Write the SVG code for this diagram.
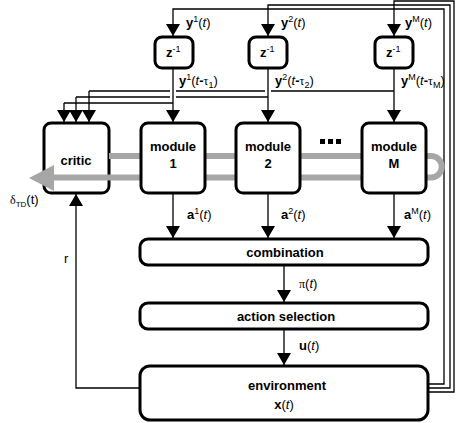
<svg xmlns="http://www.w3.org/2000/svg" width="456" height="423" viewBox="0 0 456 423">
<defs>
<marker id="ah" markerUnits="userSpaceOnUse" markerWidth="14" markerHeight="14" viewBox="0 0 12 14" refX="12" refY="7" orient="auto">
<path d="M0,0 L12,7 L0,14 z" fill="#000"/>
</marker>
</defs>
<style>
.box{fill:#fff;stroke:#000;stroke-width:3}
.ln{fill:none;stroke:#000;stroke-width:1.3}
.arr{fill:none;stroke:#000;stroke-width:1.3;marker-end:url(#ah)}
.t{font-family:"Liberation Sans",Arial,sans-serif;font-size:13px;font-weight:bold;text-anchor:middle;fill:#000}
.l{font-family:"Liberation Sans",Arial,sans-serif;font-size:13px;fill:#000}
.b{font-weight:bold}
.i{font-style:italic}
.s{font-size:9px}
.g{font-family:"Liberation Serif","DejaVu Serif",serif;font-size:12px}
</style>

<g id="connectors">
<!-- feedback y lines from environment -->
<path class="arr" d="M428,384 H444 V9 H173 V36"/>
<path class="arr" d="M428,388 H450 V5 H268 V36"/>
<path class="arr" d="M428,392 H454 V1 H394 V36"/>
<!-- delayed outputs to modules -->
<path class="arr" d="M173,68 V122"/>
<path class="arr" d="M268,68 V122"/>
<path class="arr" d="M394,68 V122"/>
<!-- delayed outputs to critic -->
<path class="ln" d="M394,91 H271 M265,91 H176 M170,91 H89"/>
<path class="arr" d="M89,91 V122"/>
<path class="ln" d="M268,97 H176 M170,97 H76"/>
<path class="arr" d="M76,97 V122"/>
<path class="ln" d="M173,103 H64"/>
<path class="arr" d="M64,103 V122"/>
<!-- module outputs -->
<path class="arr" d="M173,193 V238"/>
<path class="arr" d="M268,193 V238"/>
<path class="arr" d="M394,193 V238"/>
<path class="arr" d="M284,265 V302"/>
<path class="arr" d="M284,329 V365"/>
<!-- reward -->
<path class="arr" d="M139,388 H76 V194"/>
</g>

<g id="delay1">
<rect class="box" x="155" y="37" width="38" height="31" rx="7"/>
<text class="l" x="166" y="57"><tspan class="b">z</tspan><tspan class="s" dy="-5">-1</tspan></text>
</g>
<g id="delay2">
<rect class="box" x="249" y="37" width="38" height="31" rx="7"/>
<text class="l" x="260" y="57"><tspan class="b">z</tspan><tspan class="s" dy="-5">-1</tspan></text>
</g>
<g id="delayM">
<rect class="box" x="375" y="37" width="38" height="31" rx="7"/>
<text class="l" x="386" y="57"><tspan class="b">z</tspan><tspan class="s" dy="-5">-1</tspan></text>
</g>

<g id="labels">
<text class="l" x="186" y="27"><tspan class="b">y</tspan><tspan class="s" dy="-5">1</tspan><tspan dy="5">(</tspan><tspan class="i">t</tspan>)</text>
<text class="l" x="281" y="27"><tspan class="b">y</tspan><tspan class="s" dy="-5">2</tspan><tspan dy="5">(</tspan><tspan class="i">t</tspan>)</text>
<text class="l" x="405" y="27"><tspan class="b">y</tspan><tspan class="s" dy="-5">M</tspan><tspan dy="5">(</tspan><tspan class="i">t</tspan>)</text>
<text class="l" x="179" y="85"><tspan class="b">y</tspan><tspan class="s" dy="-5">1</tspan><tspan dy="5">(</tspan><tspan class="i">t</tspan><tspan class="b">-</tspan><tspan class="g">τ</tspan><tspan class="s" dy="3">1</tspan><tspan dy="-3">)</tspan></text>
<text class="l" x="275" y="85"><tspan class="b">y</tspan><tspan class="s" dy="-5">2</tspan><tspan dy="5">(</tspan><tspan class="i">t</tspan><tspan class="b">-</tspan><tspan class="g">τ</tspan><tspan class="s" dy="3">2</tspan><tspan dy="-3">)</tspan></text>
<text class="l" x="401" y="85"><tspan class="b">y</tspan><tspan class="s" dy="-5">M</tspan><tspan dy="5">(</tspan><tspan class="i">t</tspan><tspan class="b">-</tspan><tspan class="g">τ</tspan><tspan class="s" dy="3">M</tspan><tspan dy="-3">)</tspan></text>
<text class="l" x="187" y="219"><tspan class="b">a</tspan><tspan class="s" dy="-5">1</tspan><tspan dy="5">(</tspan><tspan class="i">t</tspan>)</text>
<text class="l" x="281" y="219"><tspan class="b">a</tspan><tspan class="s" dy="-5">2</tspan><tspan dy="5">(</tspan><tspan class="i">t</tspan>)</text>
<text class="l" x="404" y="219"><tspan class="b">a</tspan><tspan class="s" dy="-5">M</tspan><tspan dy="5">(</tspan><tspan class="i">t</tspan>)</text>
<text class="l" x="299" y="288"><tspan class="g">π</tspan>(<tspan class="i">t</tspan>)</text>
<text class="l" x="299" y="350"><tspan class="b">u</tspan>(<tspan class="i">t</tspan>)</text>
<text class="l" x="64" y="263">r</text>
<text class="l" x="10" y="204" fill="#333"><tspan class="g">δ</tspan><tspan font-size="8" dy="3">TD</tspan><tspan dy="-3">(t)</tspan></text>
</g>

<g id="critic">
<rect class="box" x="44" y="123" width="65" height="70" rx="7"/>
<text class="t" x="76" y="165">critic</text>
</g>

<g id="td-signal">
<path d="M109,156 H431 A10.75,10.75 0 0 1 431,177.5 H50" fill="none" stroke="#a6a6a6" stroke-width="6"/>
<path d="M29,178 L54,165 L54,191 z" fill="#a6a6a6"/>
</g>

<g id="module1">
<rect class="box" x="141" y="123" width="64" height="70" rx="7"/>
<text class="t" x="173" y="151">module</text>
<text class="t" x="173" y="168">1</text>
</g>
<g id="module2">
<rect class="box" x="236" y="123" width="64" height="70" rx="7"/>
<text class="t" x="268" y="151">module</text>
<text class="t" x="268" y="168">2</text>
</g>
<g id="dots">
<rect x="320" y="139" width="5" height="5"/>
<rect x="328" y="139" width="5" height="5"/>
<rect x="336" y="139" width="5" height="5"/>
</g>
<g id="moduleM">
<rect class="box" x="362" y="123" width="64" height="70" rx="7"/>
<text class="t" x="394" y="151">module</text>
<text class="t" x="394" y="168">M</text>
</g>

<g id="combination">
<rect class="box" x="140" y="239" width="288" height="26" rx="8"/>
<text class="t" x="285" y="257">combination</text>
</g>
<g id="action-selection">
<rect class="box" x="140" y="303" width="288" height="26" rx="8"/>
<text class="t" x="286" y="321">action selection</text>
</g>
<g id="environment">
<rect class="box" x="140" y="366" width="288" height="54" rx="10"/>
<text class="t" x="287" y="390">environment</text>
<text class="l" x="284" y="409" text-anchor="middle"><tspan class="b">x</tspan>(<tspan class="i">t</tspan>)</text>
</g>
</svg>
